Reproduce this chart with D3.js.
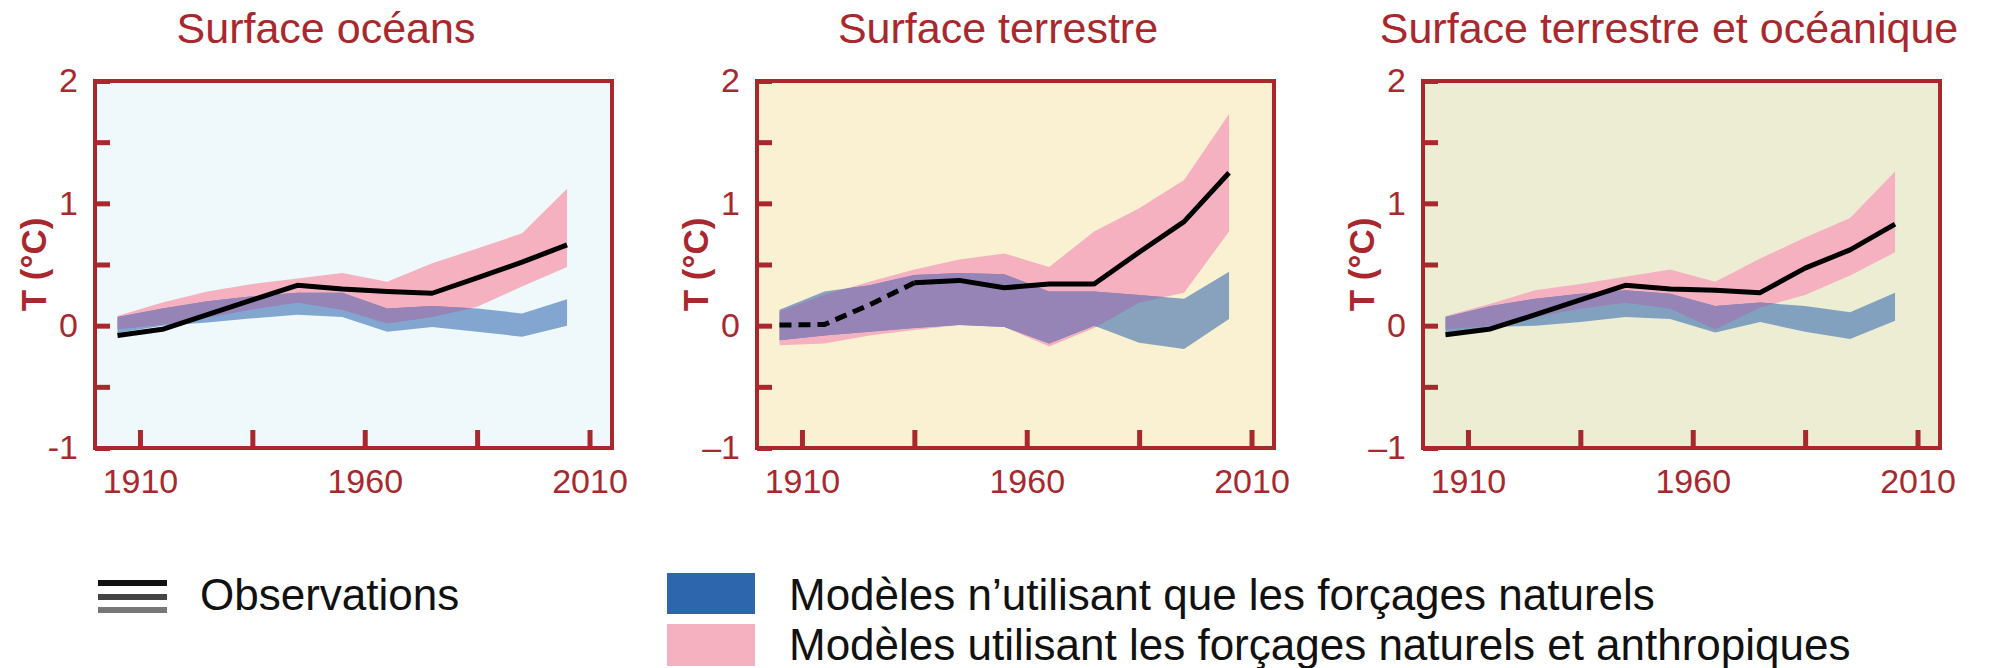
<!DOCTYPE html>
<html>
  <head>
    <meta charset="utf-8">
    <title>Températures observées et simulées</title>
    <script src="https://d3js.org/d3.v7.min.js"></script>
    <style>
      body { margin: 0; background: #fff; }
      text { font-family: "Liberation Sans", Arial, sans-serif; }
    </style>
  </head>
  <body>
    <div id="chart"></div>
    <script>
      // decade centres
      var years = [1905, 1915, 1925, 1935, 1945, 1955, 1965, 1975, 1985, 1995, 2005];

      var titles = ["Surface océans", "Surface terrestre", "Surface terrestre et océanique"];
      var xTicks = [1910, 1935, 1960, 1985, 2010];
      var xTickLabels = ["1910", "", "1960", "", "2010"];
      var yTicks = [-1, -0.5, 0, 0.5, 1, 1.5, 2];
      var yAxisLabel = "T (°C)";

      // Surface océans
      var oceanObs       = [-0.08, -0.03, 0.09, 0.21, 0.33, 0.30, 0.28, 0.265, 0.39, 0.52, 0.66];
      var oceanPinkHigh  = [0.08, 0.19, 0.28, 0.34, 0.385, 0.43, 0.36, 0.51, 0.63, 0.755, 1.12];
      var oceanPinkLow   = [-0.03, 0.01, 0.067, 0.135, 0.19, 0.13, 0.02, 0.07, 0.155, 0.32, 0.48];
      var oceanBlueHigh  = [0.07, 0.14, 0.20, 0.24, 0.27, 0.27, 0.14, 0.16, 0.14, 0.10, 0.215];
      var oceanBlueLow   = [-0.06, 0.0, 0.026, 0.06, 0.09, 0.07, -0.05, -0.01, -0.05, -0.09, 0.0];

      // Surface terrestre
      var landObs        = [0.005, 0.01, 0.17, 0.35, 0.37, 0.31, 0.34, 0.34, 0.60, 0.85, 1.25];
      var landPinkHigh   = [0.115, 0.25, 0.36, 0.46, 0.54, 0.59, 0.48, 0.77, 0.96, 1.19, 1.73];
      var landPinkLow    = [-0.16, -0.145, -0.08, -0.035, 0.005, -0.01, -0.17, -0.02, 0.19, 0.27, 0.77];
      var landBlueHigh   = [0.13, 0.28, 0.33, 0.415, 0.43, 0.42, 0.28, 0.28, 0.25, 0.22, 0.44];
      var landBlueLow    = [-0.12, -0.08, -0.05, -0.02, 0.005, -0.01, -0.145, 0.0, -0.14, -0.19, 0.055];

      // Surface terrestre et océanique
      var globalObs      = [-0.074, -0.027, 0.09, 0.21, 0.33, 0.30, 0.29, 0.27, 0.47, 0.62, 0.83];
      var globalPinkHigh = [0.08, 0.18, 0.29, 0.34, 0.40, 0.46, 0.36, 0.55, 0.72, 0.88, 1.26];
      var globalPinkLow  = [-0.03, 0.0, 0.07, 0.14, 0.19, 0.14, -0.03, 0.15, 0.25, 0.41, 0.60];
      var globalBlueHigh = [0.07, 0.16, 0.22, 0.26, 0.29, 0.26, 0.16, 0.19, 0.16, 0.11, 0.27];
      var globalBlueLow  = [-0.06, -0.01, 0.0, 0.03, 0.07, 0.055, -0.055, 0.03, -0.05, -0.11, 0.04];

      var legendLabels = ["Observations",
        "Modèles n’utilisant que les forçages naturels",
        "Modèles utilisant les forçages naturels et anthropiques"];

      var red = "#a8282e";
      var pink = "#f5b1c0";
      var blue = "#2e66ae";
      var overlap = "#9784b7";

      var panels = [
        { obs: oceanObs, ph: oceanPinkHigh, pl: oceanPinkLow, bh: oceanBlueHigh, bl: oceanBlueLow,
          left: 95, right: 612, titleX: 326, bg: "#eff8fb", minus: "-1", dashedTo: -1 },
        { obs: landObs, ph: landPinkHigh, pl: landPinkLow, bh: landBlueHigh, bl: landBlueLow,
          left: 757, right: 1274, titleX: 998, bg: "#faf0d2", minus: "\u20131", dashedTo: 3 },
        { obs: globalObs, ph: globalPinkHigh, pl: globalPinkLow, bh: globalBlueHigh, bl: globalBlueLow,
          left: 1423, right: 1940, titleX: 1669, bg: "#ecedd3", minus: "\u20131", dashedTo: -1 }
      ];

      var svg = d3.select("#chart").append("svg")
        .attr("width", 1989)
        .attr("height", 668);
      var defs = svg.append("defs");

      var plotTop = 81, plotBottom = 448;
      var y = d3.scaleLinear().domain([-1, 2]).range([plotBottom, plotTop]);

      panels.forEach(function(p, i) {
        var x = d3.scaleLinear().domain([1900, 2015]).range([p.left, p.right]);
        var g = svg.append("g");

        g.append("rect")
          .attr("x", p.left).attr("y", plotTop)
          .attr("width", p.right - p.left).attr("height", plotBottom - plotTop)
          .attr("fill", p.bg);

        var band = function(hi, lo) {
          return d3.area()
            .x(function(d, j) { return x(years[j]); })
            .y0(function(d, j) { return y(lo[j]); })
            .y1(function(d, j) { return y(hi[j]); })(years);
        };
        var pinkPath = band(p.ph, p.pl);
        var bluePath = band(p.bh, p.bl);

        defs.append("clipPath").attr("id", "pinkclip" + i)
          .append("path").attr("d", pinkPath);

        g.append("path").attr("d", pinkPath).attr("fill", pink);
        g.append("path").attr("d", bluePath).attr("fill", blue).attr("fill-opacity", 0.56);
        // where both model ranges overlap
        g.append("path").attr("d", bluePath).attr("fill", overlap)
          .attr("clip-path", "url(#pinkclip" + i + ")");

        var pts = years.map(function(yr, j) { return [x(yr), y(p.obs[j])]; });
        var line = d3.line();
        if (p.dashedTo > 0) {
          g.append("path").attr("d", line(pts.slice(0, p.dashedTo + 1)))
            .attr("fill", "none").attr("stroke", "#000").attr("stroke-width", 5)
            .attr("stroke-dasharray", "12,7");
          g.append("path").attr("d", line(pts.slice(p.dashedTo)))
            .attr("fill", "none").attr("stroke", "#000").attr("stroke-width", 5)
            .attr("stroke-linejoin", "round");
        } else {
          g.append("path").attr("d", line(pts))
            .attr("fill", "none").attr("stroke", "#000").attr("stroke-width", 5)
            .attr("stroke-linejoin", "round");
        }

        // frame
        g.append("rect")
          .attr("x", p.left).attr("y", plotTop)
          .attr("width", p.right - p.left).attr("height", plotBottom - plotTop)
          .attr("fill", "none").attr("stroke", red).attr("stroke-width", 4);

        var yAxis = d3.axisLeft(y)
          .tickValues(yTicks)
          .tickSize(-15)
          .tickPadding(17)
          .tickFormat(function(d) {
            if (d === -1) return p.minus;
            return Number.isInteger(d) ? String(d) : "";
          });
        var ya = g.append("g").attr("transform", "translate(" + p.left + ",0)").call(yAxis);

        var xAxis = d3.axisBottom(x)
          .tickValues(xTicks)
          .tickSize(-18)
          .tickPadding(21)
          .tickFormat(function(d, j) { return xTickLabels[j]; });
        var xa = g.append("g").attr("transform", "translate(0," + plotBottom + ")").call(xAxis);

        [ya, xa].forEach(function(a) {
          a.select(".domain").remove();
          a.selectAll(".tick line").attr("stroke", red).attr("stroke-width", 5);
          a.selectAll(".tick text")
            .attr("fill", red)
            .style("font-size", "34px");
        });

        g.append("text")
          .attr("transform", "translate(" + (p.left - 49) + "," + ((plotTop + plotBottom) / 2) + ") rotate(-90)")
          .attr("text-anchor", "middle")
          .attr("fill", red)
          .style("font-size", "35px")
          .style("font-weight", "bold")
          .text(yAxisLabel);

        g.append("text")
          .attr("x", p.titleX).attr("y", 43)
          .attr("text-anchor", "middle")
          .attr("fill", red)
          .style("font-size", "43px")
          .text(titles[i]);
      });

      // legend
      var leg = svg.append("g");
      [["#111", 583], ["#444", 597], ["#777", 610]].forEach(function(l) {
        leg.append("line")
          .attr("x1", 98).attr("x2", 167)
          .attr("y1", l[1]).attr("y2", l[1])
          .attr("stroke", l[0]).attr("stroke-width", 6);
      });
      leg.append("text").attr("x", 200).attr("y", 610)
        .style("font-size", "44px").attr("fill", "#111").text(legendLabels[0]);

      leg.append("rect").attr("x", 667).attr("y", 573).attr("width", 88).attr("height", 41).attr("fill", blue);
      leg.append("rect").attr("x", 667).attr("y", 624).attr("width", 88).attr("height", 42).attr("fill", pink);
      leg.append("text").attr("x", 789).attr("y", 610)
        .style("font-size", "44px").attr("fill", "#111").text(legendLabels[1]);
      leg.append("text").attr("x", 789).attr("y", 660)
        .style("font-size", "44px").attr("fill", "#111").text(legendLabels[2]);
    </script>
  </body>
</html>
